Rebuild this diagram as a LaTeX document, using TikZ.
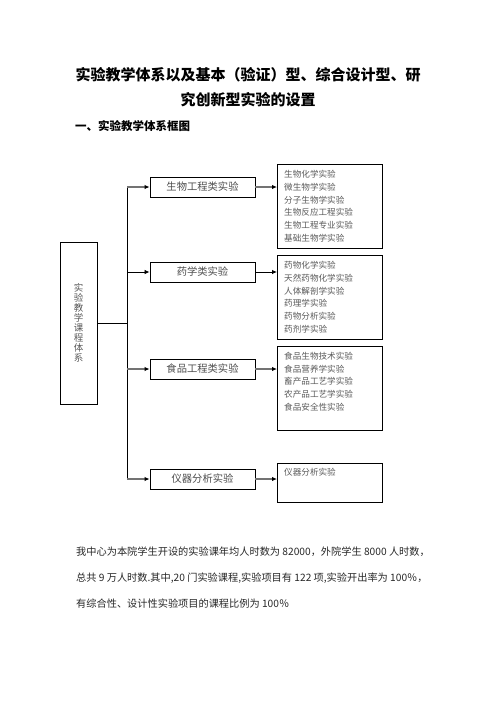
\documentclass[tikz,border=0pt]{standalone}
\usepackage{fontspec}
\setmainfont{Noto Sans CJK SC}
\usetikzlibrary{arrows.meta,positioning,calc}

\tikzset{
  midbox/.style={draw,line width=0.9pt,minimum width=105pt,minimum height=20pt,inner sep=0pt,
    text=black!70,font=\fontsize{10.3}{12}\selectfont},
  listbox/.style={draw,line width=0.9pt,minimum width=105pt,anchor=north west,inner sep=0pt},
  listtxt/.style={anchor=north west,inner sep=0pt,align=left,text=black!65,
    font=\fontsize{8.6}{12.9}\selectfont},
  arrg/.style={-{Latex[length=5pt,width=4.5pt,black]},line width=1.3pt,black!55},
  arrk/.style={-{Latex[length=5pt,width=4.5pt]},line width=0.8pt},
  para/.style={anchor=west,inner sep=0pt,text=black!85,font=\fontsize{10.2}{12}\selectfont},
}

\begin{document}
\begin{tikzpicture}[x=1pt,y=-1pt]
  \useasboundingbox (0,0) rectangle (496,702);
  % 标题
  \node[font=\fontsize{15}{15}\selectfont\bfseries] (title1) at (248,75)
    {实验教学体系以及基本（验证）型、综合设计型、研};
  \node[font=\fontsize{15}{15}\selectfont\bfseries] (title2) at (248,100) {究创新型实验的设置};
  \node[anchor=west,inner sep=0pt,font=\fontsize{11.5}{12}\selectfont\bfseries] (head) at (75,126)
    {一、实验教学体系框图};

  % 左侧总框
  \node[draw,line width=0.9pt,minimum width=37pt,minimum height=162pt,inner sep=0pt,align=center,
    text=black!65,font=\fontsize{9.5}{10}\selectfont] (sys) at (78.5,323)
    {实\\验\\教\\学\\课\\程\\体\\系};
  \coordinate (tk) at (127,0);

  % 中间各类实验
  \node[midbox] (bio) at (202.5,187) {生物工程类实验};
  \node[midbox] (pha) at (202.5,272) {药学类实验};
  \node[midbox] (food) at (202.5,369) {食品工程类实验};
  \node[midbox] (ins) at (202.5,479) {仪器分析实验};

  % 右侧课程列表
  \node[listbox,minimum height=84pt] (rbio) at (277,164) {};
  \node[listbox,minimum height=84pt] (rpha) at (277,255) {};
  \node[listbox,minimum height=84pt] (rfood) at (277,346) {};
  \node[listbox,minimum height=39pt] (rins) at (277,463) {};
  \node[listtxt] (lbio) at ($(rbio.north west)+(7,5.7)$)
    {生物化学实验\\微生物学实验\\分子生物学实验\\生物反应工程实验\\生物工程专业实验\\基础生物学实验};
  \node[listtxt] (lpha) at ($(rpha.north west)+(7,5.7)$)
    {药物化学实验\\天然药物化学实验\\人体解剖学实验\\药理学实验\\药物分析实验\\药剂学实验};
  \node[listtxt] (lfood) at ($(rfood.north west)+(7,5.7)$)
    {食品生物技术实验\\食品营养学实验\\畜产品工艺学实验\\农产品工艺学实验\\食品安全性实验};
  \node[listtxt] (lins) at ($(rins.north west)+(7,4.7)$) {仪器分析实验};

  % 连线
  \draw[line width=0.9pt] (sys.east) -- (sys.east -| tk);
  \draw[line width=0.9pt] (tk |- bio.west) -- (tk |- ins.west);
  \draw[arrg] (tk |- bio.west) -- (bio.west);
  \draw[arrg] (bio.east) -- (bio.east -| rbio.west);
  \draw[arrk] (tk |- pha.west) -- (pha.west);
  \draw[arrk] (pha.east) -- (pha.east -| rpha.west);
  \draw[arrg] (tk |- food.west) -- (food.west);
  \draw[arrg] (food.east) -- (food.east -| rfood.west);
  \draw[arrg] (tk |- ins.west) -- (ins.west);
  \draw[arrg] (ins.east) -- (ins.east -| rins.west);

  % 说明文字
  \node[para] (p1) at (76,552) {我中心为本院学生开设的实验课年均人时数为 82000，外院学生 8000 人时数，};
  \node[para] (p2) at (76,578) {总共 9 万人时数.其中,20 门实验课程,实验项目有 122 项,实验开出率为 100％，};
  \node[para] (p3) at (76,604) {有综合性、设计性实验项目的课程比例为 100％};
\end{tikzpicture}
\end{document}
